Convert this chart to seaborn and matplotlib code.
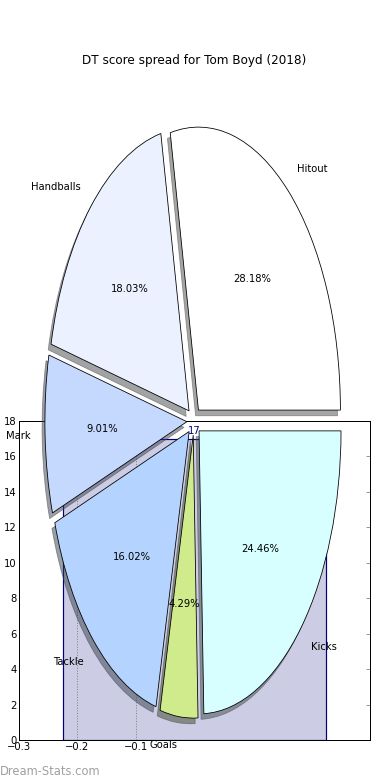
import numpy as np
import pandas as pd
import matplotlib
matplotlib.use("Agg")
import matplotlib.pyplot as plt
import seaborn as sns

# data
categories = ['Hitout', 'Handballs', 'Mark', 'Tackle', 'Goals', 'Kicks']
shares = [28.18, 18.03, 9.01, 16.02, 4.29, 24.46]
wedge_colors = ['#ffffff', '#ebf1ff', '#c5d9ff', '#b4d4ff', '#cfeb8b', '#d8ffff']

bar_x = [0.0]
bar_height = [17]
ref_lines = [-0.2, -0.1]
xtick_vals = [-0.3, -0.2, -0.1, 0.0, 0.1, 0.2, 0.3]
xtick_text = ['\u22120.3', '\u22120.2', '\u22120.1', '', '', '', '']
ytick_vals = list(range(0, 19, 2))

sns.set_style('white', rc={'text.color': 'black', 'xtick.color': 'black',
                           'ytick.color': 'black', 'axes.labelcolor': 'black'})
plt.rcParams['font.family'] = ['DejaVu Sans']
plt.rcParams['font.size'] = 10

fig = plt.figure(figsize=(390 / 72, 780 / 72), dpi=72)

# lower axes: single bar
ax = fig.add_axes([0.0487, 0.0513, 0.9, 0.409])
df = pd.DataFrame({'x': bar_x, 'h': bar_height})
sns.barplot(data=df, x='x', y='h', native_scale=True, width=0.45,
            saturation=1, facecolor=(0, 0, 0.5, 0.2), edgecolor='navy',
            linewidth=1.2, ax=ax, errorbar=None)
for xv in ref_lines:
    ax.axvline(xv, color='gray', linestyle=':', linewidth=1, zorder=3)
ax.bar_label(ax.containers[0], color='navy', fontsize=10, padding=3,
             bbox=dict(facecolor='white', edgecolor='none', pad=1.5))
ax.set_xlim(-0.3, 0.3)
ax.set_ylim(0, 18)
ax.set_xticks(xtick_vals)
ax.set_xticklabels(xtick_text)
ax.set_yticks(ytick_vals)
ax.set_xlabel('')
ax.set_ylabel('')
ax.tick_params(direction='in', length=4, color='gray', labelcolor='black',
               right=True, labelsize=10, pad=2)
ax.tick_params(axis='x', length=0)
for sp in ax.spines.values():
    sp.set_color('black')
    sp.set_linewidth(1)

# pie on top, stretched (no equal aspect)
ax_pie = fig.add_axes([0.0423, 0.0067, 0.910, 0.907])
ax_pie.pie(shares, labels=categories, colors=wedge_colors,
           explode=[0.05] * len(shares), autopct='%.2f%%', shadow=True,
           startangle=0, wedgeprops=dict(edgecolor='black', linewidth=0.8),
           textprops=dict(fontsize=10, color='black'))
ax_pie.set_aspect('auto')
ax_pie.set_xlim(-1.25, 1.25)
ax_pie.set_ylim(-1.25, 1.25)
ax_pie.axis('off')
ax_pie.set_title('DT score spread for Tom Boyd (2018)', fontsize=12, pad=2,
                 color='black')

fig.text(0.0, 0.007, 'Dream-Stats.com', color='#a0a0a0', fontsize=11.5)

fig.savefig('out.png', dpi=72)
